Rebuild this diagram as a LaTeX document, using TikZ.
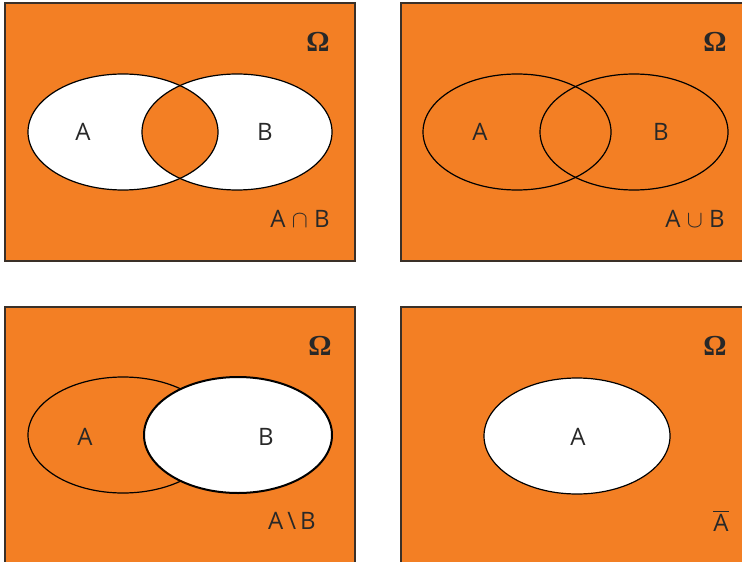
\documentclass[tikz,border=0pt]{standalone}
\usepackage{fontspec}
\setmainfont{Open Sans}
\newfontfamily\omegafont{Liberation Serif}
\definecolor{vennorange}{RGB}{243,127,36}
\definecolor{frameline}{RGB}{58,48,40}
\definecolor{labeltext}{RGB}{40,40,40}
\begin{document}
\begin{tikzpicture}[x=0.5pt,y=-0.5pt,
    panel/.style={fill=vennorange,draw=frameline,line width=0.75pt},
    setline/.style={draw=black,line width=0.6pt},
    setlabel/.style={font=\fontsize{12}{14}\selectfont,text=labeltext},
    omega/.style={font=\omegafont\bfseries\fontsize{14.5}{16}\selectfont,text=labeltext}]
    \useasboundingbox (0,0) rectangle (742,561);
    \clip (0,0) rectangle (742,561);

    % Panels
    \draw[panel] (5,3) rectangle (355,261);
    \draw[panel] (401,3) rectangle (751,261);
    \draw[panel] (5,307) rectangle (355,565);
    \draw[panel] (401,307) rectangle (751,565);

    % Intersection
    \fill[white] (123,132) ellipse [x radius=95, y radius=58];
    \fill[white] (237,132) ellipse [x radius=95, y radius=58];
    \begin{scope}
        \clip (123,132) ellipse [x radius=95, y radius=58];
        \fill[vennorange] (237,132) ellipse [x radius=95, y radius=58];
    \end{scope}
    \draw[setline] (123,132) ellipse [x radius=95, y radius=58];
    \draw[setline] (237,132) ellipse [x radius=95, y radius=58];
    \node[setlabel] (aI) at (83,132) {A};
    \node[setlabel] (bI) at (265,132) {B};
    \node[omega] (omegaI) at (318,42) {Ω};
    \node[setlabel] (capI) at (300,219) {A $\cap$ B};

    % Union
    \draw[setline] (517,132) ellipse [x radius=94, y radius=58];
    \draw[setline] (634,132) ellipse [x radius=94, y radius=58];
    \node[setlabel] (aII) at (480,132) {A};
    \node[setlabel] (bII) at (661,132) {B};
    \node[omega] (omegaII) at (715,42) {Ω};
    \node[setlabel] (cupII) at (695,219) {A $\cup$ B};

    % Difference
    \draw[setline] (123,435) ellipse [x radius=95, y radius=58];
    \draw[fill=white,line width=1pt] (238,435) ellipse [x radius=94, y radius=58];
    \node[setlabel] (aIII) at (85,437) {A};
    \node[setlabel] (bIII) at (266,437) {B};
    \node[omega] (omegaIII) at (320,346) {Ω};
    \node[setlabel] (setminusIII) at (292,521) {A\,\textbackslash\,B};

    % Complement
    \draw[setline,fill=white] (577,436) ellipse [x radius=93, y radius=58];
    \node[setlabel] (aIV) at (578,437) {A};
    \node[omega] (omegaIV) at (715,346) {Ω};
    \node[setlabel] (complIV) at (721,521) {$\overline{\mbox{A}}$};
\end{tikzpicture}
\end{document}
